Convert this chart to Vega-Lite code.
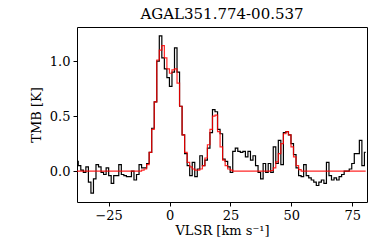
{
  "$schema": "https://vega.github.io/schema/vega-lite/v6.json",
  "autosize": {"type": "none"},
  "padding": {"left": 77, "top": 27, "right": 7, "bottom": 47},
  "width": 290,
  "height": 175,
  "title": {"text": "AGAL351.774-00.537", "font": "DejaVu Serif", "fontSize": 15, "fontWeight": "normal", "color": "#000", "offset": 5},
  "config": {
    "font": "DejaVu Serif",
    "view": {"stroke": "#000", "strokeWidth": 1},
    "axis": {"grid": false, "domain": false, "tickColor": "#000", "tickSize": 4, "labelFont": "DejaVu Serif", "labelFontSize": 13, "labelColor": "#000", "titleFont": "DejaVu Serif", "titleFontSize": 13, "titleFontWeight": "normal", "titleColor": "#000", "labelPadding": 3}
  },
  "data": {"values": [
    {"v": -38.00, "T": 0.09, "fit": 0}, {"v": -36.96, "T": 0.05, "fit": 0}, {"v": -35.92, "T": 0.01, "fit": 0},
    {"v": -34.88, "T": -0.01, "fit": 0}, {"v": -33.84, "T": 0.04, "fit": 0}, {"v": -32.80, "T": -0.10, "fit": 0},
    {"v": -31.76, "T": -0.20, "fit": 0}, {"v": -30.72, "T": -0.07, "fit": 0}, {"v": -29.68, "T": 0.06, "fit": 0},
    {"v": -28.64, "T": 0.04, "fit": 0}, {"v": -27.60, "T": -0.01, "fit": 0}, {"v": -26.56, "T": -0.03, "fit": 0},
    {"v": -25.52, "T": 0.03, "fit": 0}, {"v": -24.48, "T": -0.04, "fit": 0}, {"v": -23.44, "T": -0.11, "fit": 0},
    {"v": -22.40, "T": -0.04, "fit": 0}, {"v": -21.36, "T": -0.04, "fit": 0}, {"v": -20.32, "T": 0.06, "fit": 0},
    {"v": -19.28, "T": -0.03, "fit": 0}, {"v": -18.24, "T": -0.04, "fit": 0}, {"v": -17.20, "T": -0.05, "fit": 0},
    {"v": -16.16, "T": -0.05, "fit": 0}, {"v": -15.12, "T": 0.00, "fit": 0}, {"v": -14.08, "T": -0.08, "fit": 0},
    {"v": -13.04, "T": -0.03, "fit": 0}, {"v": -12.00, "T": 0.06, "fit": 0}, {"v": -10.96, "T": 0.03, "fit": 0.01},
    {"v": -9.92, "T": 0.03, "fit": 0.02}, {"v": -8.88, "T": 0.07, "fit": 0.06}, {"v": -7.84, "T": 0.17, "fit": 0.17},
    {"v": -6.80, "T": 0.39, "fit": 0.38}, {"v": -5.76, "T": 0.63, "fit": 0.63}, {"v": -4.72, "T": 1.00, "fit": 1.01},
    {"v": -3.68, "T": 1.23, "fit": 1.10}, {"v": -2.64, "T": 1.03, "fit": 1.14}, {"v": -1.60, "T": 0.93, "fit": 1.03},
    {"v": -0.56, "T": 0.85, "fit": 0.93}, {"v": 0.48, "T": 0.77, "fit": 0.89}, {"v": 1.52, "T": 0.90, "fit": 0.92},
    {"v": 2.56, "T": 1.12, "fit": 0.93}, {"v": 3.60, "T": 0.90, "fit": 0.80}, {"v": 4.64, "T": 0.59, "fit": 0.59},
    {"v": 5.68, "T": 0.33, "fit": 0.33}, {"v": 6.72, "T": 0.16, "fit": 0.17}, {"v": 7.76, "T": 0.05, "fit": 0.08},
    {"v": 8.80, "T": -0.04, "fit": 0.04}, {"v": 9.84, "T": 0.08, "fit": 0.02}, {"v": 10.88, "T": -0.05, "fit": 0.01},
    {"v": 11.92, "T": 0.02, "fit": 0.01}, {"v": 12.96, "T": 0.14, "fit": 0.02}, {"v": 14.00, "T": 0.05, "fit": 0.05},
    {"v": 15.04, "T": 0.10, "fit": 0.12}, {"v": 16.08, "T": 0.21, "fit": 0.24}, {"v": 17.12, "T": 0.35, "fit": 0.38},
    {"v": 18.16, "T": 0.56, "fit": 0.50}, {"v": 19.20, "T": 0.54, "fit": 0.51}, {"v": 20.24, "T": 0.38, "fit": 0.36},
    {"v": 21.28, "T": 0.34, "fit": 0.22}, {"v": 22.32, "T": 0.11, "fit": 0.10}, {"v": 23.36, "T": 0.09, "fit": 0.05},
    {"v": 24.40, "T": 0.04, "fit": 0.02}, {"v": 25.44, "T": -0.01, "fit": 0.01}, {"v": 26.48, "T": 0.18, "fit": 0},
    {"v": 27.52, "T": 0.21, "fit": 0}, {"v": 28.56, "T": 0.18, "fit": 0}, {"v": 29.60, "T": 0.17, "fit": 0},
    {"v": 30.64, "T": 0.18, "fit": 0}, {"v": 31.68, "T": 0.13, "fit": 0}, {"v": 32.72, "T": 0.18, "fit": 0},
    {"v": 33.76, "T": 0.10, "fit": 0}, {"v": 34.80, "T": 0.14, "fit": 0}, {"v": 35.84, "T": 0.05, "fit": 0},
    {"v": 36.88, "T": -0.01, "fit": 0}, {"v": 37.92, "T": -0.07, "fit": 0}, {"v": 38.96, "T": 0.07, "fit": 0},
    {"v": 40.00, "T": -0.01, "fit": 0}, {"v": 41.04, "T": 0.07, "fit": 0}, {"v": 42.08, "T": -0.01, "fit": 0.006},
    {"v": 43.12, "T": 0.22, "fit": 0.03}, {"v": 44.16, "T": 0.07, "fit": 0.085}, {"v": 45.20, "T": 0.28, "fit": 0.16},
    {"v": 46.24, "T": 0.06, "fit": 0.25}, {"v": 47.28, "T": 0.35, "fit": 0.34}, {"v": 48.32, "T": 0.36, "fit": 0.36},
    {"v": 49.36, "T": 0.33, "fit": 0.33}, {"v": 50.40, "T": 0.25, "fit": 0.22}, {"v": 51.44, "T": 0.15, "fit": 0.13},
    {"v": 52.48, "T": 0.03, "fit": 0.05}, {"v": 53.52, "T": -0.04, "fit": 0.015}, {"v": 54.56, "T": -0.05, "fit": 0},
    {"v": 55.60, "T": 0.06, "fit": 0}, {"v": 56.64, "T": -0.04, "fit": 0}, {"v": 57.68, "T": -0.06, "fit": 0},
    {"v": 58.72, "T": -0.08, "fit": 0}, {"v": 59.76, "T": -0.10, "fit": 0}, {"v": 60.80, "T": -0.13, "fit": 0},
    {"v": 61.84, "T": -0.10, "fit": 0}, {"v": 62.88, "T": -0.08, "fit": 0}, {"v": 63.92, "T": -0.11, "fit": 0},
    {"v": 64.96, "T": 0.08, "fit": 0}, {"v": 66.00, "T": -0.04, "fit": 0}, {"v": 67.04, "T": -0.08, "fit": 0},
    {"v": 68.08, "T": -0.06, "fit": 0}, {"v": 69.12, "T": -0.08, "fit": 0}, {"v": 70.16, "T": -0.05, "fit": 0},
    {"v": 71.20, "T": -0.03, "fit": 0}, {"v": 72.24, "T": 0.00, "fit": 0}, {"v": 73.28, "T": 0.00, "fit": 0},
    {"v": 74.32, "T": 0.02, "fit": 0}, {"v": 75.36, "T": 0.07, "fit": 0}, {"v": 76.40, "T": 0.16, "fit": 0},
    {"v": 77.44, "T": 0.16, "fit": 0}, {"v": 78.48, "T": 0.28, "fit": 0}, {"v": 79.52, "T": 0.05, "fit": 0},
    {"v": 80.56, "T": 0.17, "fit": 0}
  ]},
  "encoding": {
    "x": {"field": "v", "type": "quantitative",
      "scale": {"domain": [-38, 81.1], "nice": false, "zero": false},
      "axis": {"values": [-25, 0, 25, 50, 75], "title": "VLSR [km s⁻¹]", "titlePadding": 2}}
  },
  "layer": [
    {
      "mark": {"type": "line", "interpolate": "step", "color": "#000", "strokeWidth": 1.2, "clip": true},
      "encoding": {
        "y": {"field": "T", "type": "quantitative",
          "scale": {"domain": [-0.28, 1.31], "nice": false, "zero": false},
          "axis": {"values": [0, 0.5, 1.0], "format": ".1f", "title": "TMB [K]", "titlePadding": 6}}
      }
    },
    {
      "mark": {"type": "line", "interpolate": "step", "color": "#ff0000", "strokeWidth": 1.2, "opacity": 0.85, "clip": true},
      "encoding": {
        "y": {"field": "fit", "type": "quantitative"}
      }
    }
  ]
}
